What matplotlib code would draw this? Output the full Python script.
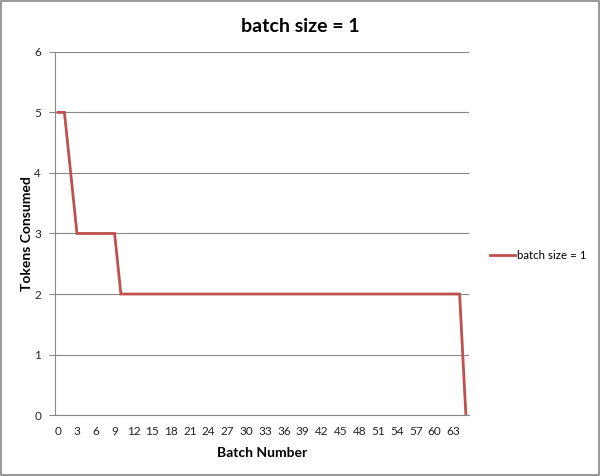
import matplotlib.pyplot as plt
import numpy as np

# data: one value per batch, batches 0..65
batch = list(range(66))
tokens = [5, 5, 4] + [3] * 7 + [2] * 55 + [0]
xtick_labels = [str(i) for i in range(0, 64, 3)]
yticks = [0, 1, 2, 3, 4, 5, 6]

plt.rcParams['font.family'] = ['Lato', 'DejaVu Sans']

fig = plt.figure(figsize=(6, 4.76), dpi=100)
ax = fig.add_axes([0.0917, 0.128, 0.69, 0.763])

ax.plot(batch, tokens, color='#C0504D', linewidth=2.0, label='batch size = 1',
        solid_joinstyle='miter')

ax.set_xlim(-0.5, 65.5)
ax.set_ylim(0, 6)
ax.set_yticks(yticks)
ax.set_xticks(range(0, 64, 3))
ax.set_xticklabels(xtick_labels)
ax.tick_params(axis='x', length=0, labelsize=8.5, pad=8, colors='#222222')
ax.tick_params(axis='y', length=4, width=0.8, color='#888888', labelsize=8.5,
               pad=6, colors='#222222')
ax.tick_params(axis='y', color='#888888')
ax.grid(axis='y', color='#888888', linewidth=0.8)
ax.set_axisbelow(True)
for side in ['top', 'right']:
    ax.spines[side].set_visible(False)
for side in ['left', 'bottom']:
    ax.spines[side].set_color('#888888')
    ax.spines[side].set_linewidth(0.8)

ax.set_xlabel('Batch Number', fontsize=10, fontweight='bold', labelpad=7)
ax.set_ylabel('Tokens Consumed', fontsize=10, fontweight='bold', labelpad=1)
fig.suptitle('batch size = 1', fontsize=14, fontweight='bold', y=0.963)

ax.legend(loc='center left', bbox_to_anchor=(1.025, 0.438), frameon=False,
          fontsize=8.3, handlelength=2.2, handletextpad=0.2)

# grey frame around the whole chart
fig.patches.append(plt.Rectangle((0.002, 0.002), 0.996, 0.996, transform=fig.transFigure,
                                 fill=False, edgecolor='#888888', linewidth=1.2))

plt.savefig('out.png', dpi=100)
